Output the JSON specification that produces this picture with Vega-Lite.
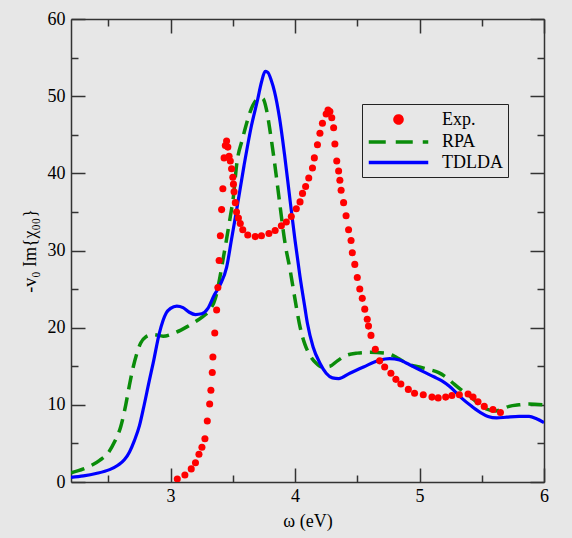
{
  "$schema": "https://vega.github.io/schema/vega-lite/v6.json",
  "width": 473,
  "height": 463,
  "autosize": {"type": "none"},
  "padding": {"left": 71, "top": 19, "right": 28, "bottom": 56},
  "background": "#e7e7e7",
  "config": {
    "view": {"stroke": null},
    "axis": {
      "grid": false,
      "domainColor": "#333333",
      "domainWidth": 1.5,
      "tickColor": "#333333",
      "tickWidth": 1.5,
      "labelFont": "Liberation Serif",
      "labelFontSize": 18,
      "labelColor": "#000000",
      "titleFont": "Liberation Serif",
      "titleFontSize": 18,
      "titleFontWeight": "normal",
      "titleColor": "#000000",
      "labelFlush": false,
      "labelOverlap": false
    }
  },
  "datasets": {
    "exp": [
      {"w": 3.054, "v": 0.4}, {"w": 3.115, "v": 0.9}, {"w": 3.166, "v": 1.7}, {"w": 3.2, "v": 2.5},
      {"w": 3.228, "v": 3.6}, {"w": 3.252, "v": 4.5}, {"w": 3.276, "v": 5.6}, {"w": 3.295, "v": 7.9},
      {"w": 3.314, "v": 10.1}, {"w": 3.324, "v": 11.9}, {"w": 3.335, "v": 14.2}, {"w": 3.34, "v": 16.2},
      {"w": 3.355, "v": 19.3}, {"w": 3.37, "v": 22.3}, {"w": 3.38, "v": 25.2}, {"w": 3.39, "v": 28.7},
      {"w": 3.4, "v": 31.9}, {"w": 3.41, "v": 35.3}, {"w": 3.42, "v": 38.0}, {"w": 3.43, "v": 42.0},
      {"w": 3.44, "v": 43.6}, {"w": 3.45, "v": 44.2}, {"w": 3.46, "v": 43.4}, {"w": 3.47, "v": 42.2},
      {"w": 3.48, "v": 41.6}, {"w": 3.49, "v": 40.6}, {"w": 3.5, "v": 39.5}, {"w": 3.505, "v": 38.6},
      {"w": 3.51, "v": 37.6}, {"w": 3.52, "v": 36.2}, {"w": 3.53, "v": 35.0}, {"w": 3.545, "v": 34.2},
      {"w": 3.56, "v": 33.5}, {"w": 3.58, "v": 32.7}, {"w": 3.62, "v": 32.0}, {"w": 3.68, "v": 31.8},
      {"w": 3.73, "v": 31.9}, {"w": 3.79, "v": 32.2}, {"w": 3.84, "v": 32.6}, {"w": 3.89, "v": 33.2},
      {"w": 3.93, "v": 33.7}, {"w": 3.97, "v": 34.4}, {"w": 4.01, "v": 35.4}, {"w": 4.04, "v": 36.3},
      {"w": 4.06, "v": 37.4}, {"w": 4.085, "v": 38.3}, {"w": 4.11, "v": 39.4}, {"w": 4.14, "v": 40.7},
      {"w": 4.155, "v": 42.0}, {"w": 4.18, "v": 43.7}, {"w": 4.2, "v": 45.2}, {"w": 4.22, "v": 46.5},
      {"w": 4.25, "v": 47.7}, {"w": 4.265, "v": 48.2}, {"w": 4.28, "v": 48.0}, {"w": 4.295, "v": 47.2},
      {"w": 4.31, "v": 45.9}, {"w": 4.32, "v": 43.8}, {"w": 4.335, "v": 41.6}, {"w": 4.35, "v": 40.3},
      {"w": 4.36, "v": 39.1}, {"w": 4.37, "v": 37.8}, {"w": 4.39, "v": 36.2}, {"w": 4.41, "v": 34.5},
      {"w": 4.43, "v": 32.7}, {"w": 4.45, "v": 31.3}, {"w": 4.46, "v": 29.7}, {"w": 4.48, "v": 28.2},
      {"w": 4.5, "v": 26.5}, {"w": 4.52, "v": 25.0}, {"w": 4.54, "v": 23.8}, {"w": 4.56, "v": 22.4},
      {"w": 4.58, "v": 21.1}, {"w": 4.59, "v": 20.2}, {"w": 4.61, "v": 19.0}, {"w": 4.645, "v": 17.2},
      {"w": 4.68, "v": 15.7}, {"w": 4.72, "v": 14.9}, {"w": 4.77, "v": 14.1}, {"w": 4.81, "v": 13.3},
      {"w": 4.85, "v": 12.7}, {"w": 4.91, "v": 12.0}, {"w": 4.96, "v": 11.5}, {"w": 5.03, "v": 11.3},
      {"w": 5.1, "v": 11.0}, {"w": 5.15, "v": 10.9}, {"w": 5.21, "v": 11.0}, {"w": 5.26, "v": 11.2},
      {"w": 5.32, "v": 11.3}, {"w": 5.39, "v": 11.4}, {"w": 5.43, "v": 11.0}, {"w": 5.47, "v": 10.4},
      {"w": 5.52, "v": 9.8}, {"w": 5.59, "v": 9.4}, {"w": 5.65, "v": 9.0}
    ],
    "rpa": [
      {"w": 2.2, "v": 1.2}, {"w": 2.3, "v": 1.7}, {"w": 2.43, "v": 2.8}, {"w": 2.5, "v": 3.8},
      {"w": 2.55, "v": 5.2}, {"w": 2.6, "v": 7.2}, {"w": 2.64, "v": 10.0}, {"w": 2.67, "v": 12.6},
      {"w": 2.7, "v": 14.9}, {"w": 2.73, "v": 16.7}, {"w": 2.76, "v": 18.0}, {"w": 2.8, "v": 18.8},
      {"w": 2.86, "v": 19.1}, {"w": 2.94, "v": 18.9}, {"w": 3.03, "v": 19.3}, {"w": 3.13, "v": 20.1},
      {"w": 3.22, "v": 21.0}, {"w": 3.28, "v": 21.7}, {"w": 3.32, "v": 22.4}, {"w": 3.36, "v": 23.8},
      {"w": 3.39, "v": 26.0}, {"w": 3.42, "v": 28.7}, {"w": 3.45, "v": 31.5}, {"w": 3.48, "v": 34.4},
      {"w": 3.505, "v": 37.0}, {"w": 3.53, "v": 41.0}, {"w": 3.58, "v": 44.6}, {"w": 3.62, "v": 47.0},
      {"w": 3.66, "v": 48.8}, {"w": 3.7, "v": 49.6}, {"w": 3.74, "v": 49.7}, {"w": 3.77, "v": 48.3},
      {"w": 3.8, "v": 45.4}, {"w": 3.83, "v": 42.0}, {"w": 3.86, "v": 38.3}, {"w": 3.88, "v": 35.7},
      {"w": 3.92, "v": 30.9}, {"w": 3.96, "v": 27.5}, {"w": 4.01, "v": 22.7}, {"w": 4.04, "v": 20.1},
      {"w": 4.08, "v": 17.8}, {"w": 4.12, "v": 16.4}, {"w": 4.17, "v": 15.4}, {"w": 4.22, "v": 14.9},
      {"w": 4.28, "v": 15.0}, {"w": 4.34, "v": 15.7}, {"w": 4.41, "v": 16.4}, {"w": 4.5, "v": 16.7},
      {"w": 4.6, "v": 16.8}, {"w": 4.73, "v": 16.7}, {"w": 4.82, "v": 16.1}, {"w": 4.92, "v": 15.2},
      {"w": 5.0, "v": 14.9}, {"w": 5.07, "v": 14.6}, {"w": 5.15, "v": 14.2}, {"w": 5.22, "v": 13.5},
      {"w": 5.27, "v": 12.8}, {"w": 5.33, "v": 12.0}, {"w": 5.4, "v": 11.2}, {"w": 5.47, "v": 10.2},
      {"w": 5.53, "v": 9.5}, {"w": 5.61, "v": 9.2}, {"w": 5.67, "v": 9.5}, {"w": 5.72, "v": 9.8},
      {"w": 5.8, "v": 10.0}, {"w": 5.88, "v": 10.1}, {"w": 6.0, "v": 10.0}
    ],
    "tdlda": [
      {"w": 2.2, "v": 0.6}, {"w": 2.3, "v": 0.8}, {"w": 2.4, "v": 1.1}, {"w": 2.51, "v": 1.6},
      {"w": 2.58, "v": 2.2}, {"w": 2.63, "v": 2.9}, {"w": 2.67, "v": 3.9}, {"w": 2.71, "v": 5.4},
      {"w": 2.75, "v": 7.3}, {"w": 2.78, "v": 9.4}, {"w": 2.83, "v": 13.2}, {"w": 2.86, "v": 15.4},
      {"w": 2.91, "v": 19.3}, {"w": 2.965, "v": 21.9}, {"w": 3.0, "v": 22.5}, {"w": 3.05, "v": 22.8},
      {"w": 3.1, "v": 22.6}, {"w": 3.15, "v": 22.0}, {"w": 3.2, "v": 21.7}, {"w": 3.25, "v": 21.8},
      {"w": 3.3, "v": 22.5}, {"w": 3.35, "v": 24.2}, {"w": 3.4, "v": 25.6}, {"w": 3.45, "v": 27.8},
      {"w": 3.49, "v": 31.5}, {"w": 3.53, "v": 35.2}, {"w": 3.59, "v": 41.0}, {"w": 3.65, "v": 46.2},
      {"w": 3.7, "v": 49.6}, {"w": 3.73, "v": 51.8}, {"w": 3.76, "v": 53.2}, {"w": 3.78, "v": 53.1},
      {"w": 3.81, "v": 52.0}, {"w": 3.835, "v": 50.6}, {"w": 3.875, "v": 47.2}, {"w": 3.915, "v": 42.5},
      {"w": 3.96, "v": 36.5}, {"w": 4.0, "v": 31.3}, {"w": 4.04, "v": 26.6}, {"w": 4.08, "v": 22.5},
      {"w": 4.1, "v": 20.5}, {"w": 4.145, "v": 17.5}, {"w": 4.2, "v": 15.4}, {"w": 4.25, "v": 14.1},
      {"w": 4.3, "v": 13.5}, {"w": 4.35, "v": 13.4}, {"w": 4.44, "v": 14.1}, {"w": 4.55, "v": 14.9},
      {"w": 4.68, "v": 15.8}, {"w": 4.76, "v": 16.0}, {"w": 4.84, "v": 15.8}, {"w": 4.92, "v": 15.2},
      {"w": 5.03, "v": 14.3}, {"w": 5.12, "v": 13.6}, {"w": 5.18, "v": 13.1}, {"w": 5.24, "v": 12.4},
      {"w": 5.3, "v": 11.5}, {"w": 5.35, "v": 10.7}, {"w": 5.42, "v": 9.8}, {"w": 5.49, "v": 9.0},
      {"w": 5.55, "v": 8.5}, {"w": 5.62, "v": 8.3}, {"w": 5.7, "v": 8.4}, {"w": 5.8, "v": 8.5},
      {"w": 5.88, "v": 8.5}, {"w": 5.94, "v": 8.2}, {"w": 6.0, "v": 7.7}
    ]
  },
  "layer": [
    {
      "data": {"name": "rpa"},
      "mark": {"type": "line", "strokeWidth": 3.5, "strokeDash": [14, 8], "interpolate": "monotone", "clip": true},
      "encoding": {
        "x": {
          "field": "w", "type": "quantitative",
          "scale": {"domain": [2.2, 6], "nice": false, "zero": false},
          "axis": {
            "orient": "bottom",
            "values": [2.5, 3, 3.5, 4, 4.5, 5, 5.5, 6],
            "labelExpr": "datum.value % 1 === 0 ? format(datum.value, 'd') : ''",
            "tickSize": {"condition": {"test": "datum.value % 1 === 0", "value": -14}, "value": -7},
            "labelPadding": 19,
            "title": "ω (eV)",
            "titlePadding": 0
          }
        },
        "y": {
          "field": "v", "type": "quantitative",
          "scale": {"domain": [0, 60], "nice": false},
          "axis": {
            "orient": "left",
            "values": [0, 5, 10, 15, 20, 25, 30, 35, 40, 45, 50, 55, 60],
            "labelExpr": "datum.value % 10 === 0 ? format(datum.value, 'd') : ''",
            "tickSize": {"condition": {"test": "datum.value % 10 === 0", "value": -14}, "value": -7},
            "labelPadding": 20,
            "title": "-v₀ Im{χ₀₀}",
            "titlePadding": 8
          }
        },
        "color": {
          "datum": "RPA",
          "scale": {"domain": ["Exp.", "RPA", "TDLDA"], "range": ["#ff0000", "#0a8c0a", "#0000ff"]},
          "legend": {
            "orient": "none",
            "legendX": 291,
            "legendY": 85,
            "title": null,
            "padding": 5,
            "strokeColor": "#222222",
            "symbolType": "M-3.5,0H3.5",
            "symbolSize": 289,
            "symbolOffset": 21,
            "symbolStrokeWidth": 3.5,
            "labelFont": "Liberation Serif",
            "labelFontSize": 18,
            "labelColor": "#000000",
            "labelOffset": 33,
            "rowPadding": 0.5,
            "encode": {
              "symbols": {
                "update": {
                  "shape": {"signal": "datum.value === 'Exp.' ? 'circle' : 'M-3.5,0H3.5'"},
                  "size": {"signal": "datum.value === 'Exp.' ? 50 : 289"},
                  "fill": {"signal": "datum.value === 'Exp.' ? '#ff0000' : 'transparent'"},
                  "stroke": {"signal": "datum.value === 'Exp.' ? 'transparent' : (datum.value === 'RPA' ? '#0a8c0a' : '#0000ff')"},
                  "strokeWidth": {"value": 3.5},
                  "strokeDash": {"signal": "datum.value === 'RPA' ? [17, 10] : [1, 0]"},
                  "opacity": {"value": 1}
                }
              }
            }
          }
        }
      }
    },
    {
      "data": {"name": "tdlda"},
      "mark": {"type": "line", "strokeWidth": 3.2, "interpolate": "monotone", "clip": true},
      "encoding": {
        "x": {
          "field": "w", "type": "quantitative",
          "axis": {
            "orient": "top",
            "values": [2.5, 3, 3.5, 4, 4.5, 5, 5.5, 6],
            "labels": false,
            "title": null,
            "tickSize": {"condition": {"test": "datum.value % 1 === 0", "value": -14}, "value": -7}
          }
        },
        "y": {
          "field": "v", "type": "quantitative",
          "axis": {
            "orient": "right",
            "values": [0, 5, 10, 15, 20, 25, 30, 35, 40, 45, 50, 55, 60],
            "labels": false,
            "title": null,
            "tickSize": {"condition": {"test": "datum.value % 10 === 0", "value": -14}, "value": -7}
          }
        },
        "color": {"datum": "TDLDA"}
      }
    },
    {
      "data": {"name": "exp"},
      "mark": {"type": "point", "filled": true, "size": 50, "opacity": 1, "clip": true},
      "encoding": {
        "x": {"field": "w", "type": "quantitative", "axis": null},
        "y": {"field": "v", "type": "quantitative", "axis": null},
        "color": {"datum": "Exp."}
      }
    }
  ],
  "resolve": {"axis": {"x": "independent", "y": "independent"}}
}
